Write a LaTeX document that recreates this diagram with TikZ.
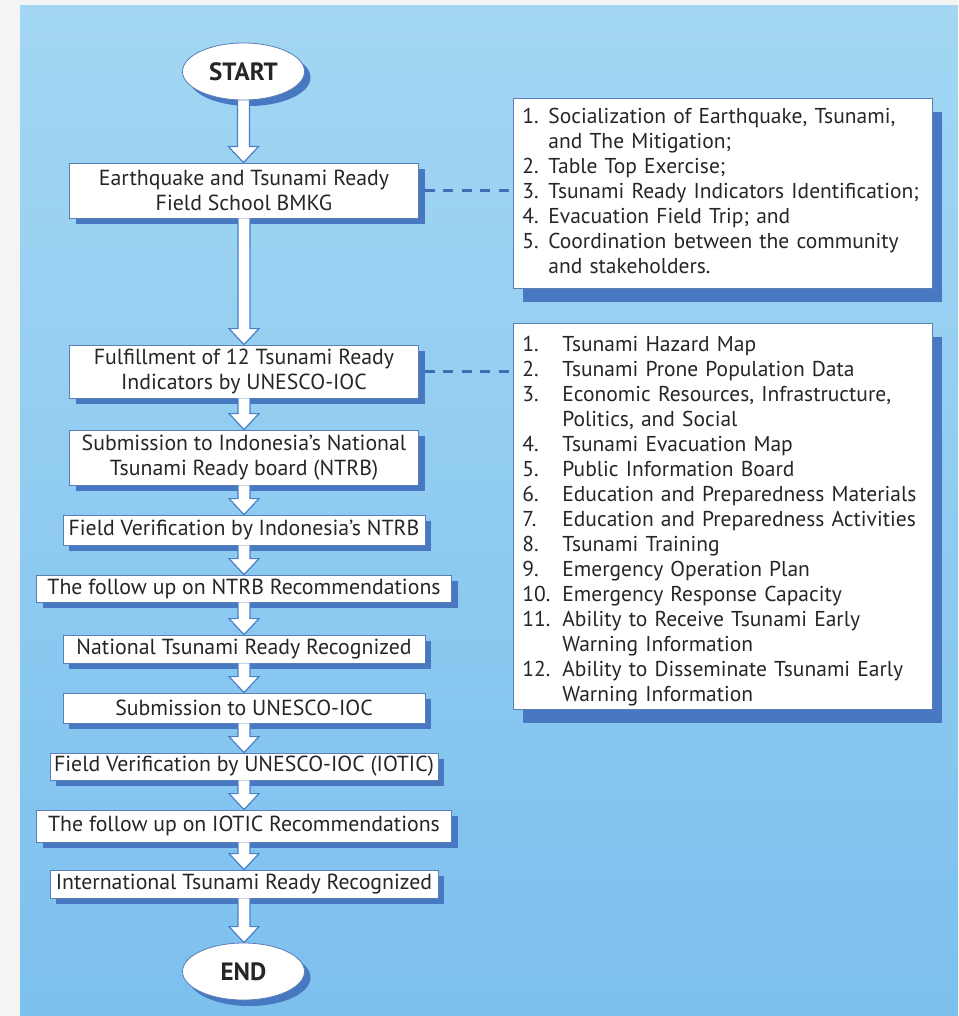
\documentclass[tikz,border=0pt]{standalone}
\usepackage{fontspec}
\setmainfont{PT Sans}
\usetikzlibrary{shapes.geometric,shadows,calc}
\definecolor{bggray}{HTML}{F4F4F4}
\definecolor{paneltop}{HTML}{A3D7F3}
\definecolor{panelbot}{HTML}{7CC0EE}
\definecolor{shadowblue}{HTML}{4778C1}
\definecolor{borderblue}{HTML}{5A7FB8}
\definecolor{arrowblue}{HTML}{4A7FCA}
\definecolor{dashblue}{HTML}{3E6FB5}
\definecolor{textcol}{HTML}{262626}
\newcommand{\blockarrow}[2]{%
  \path let \p1=(#1.south), \p2=(#2.north) in
    [barrow] (\x1-6pt,\y1) -- (\x1-6pt,\y2+16pt) -- (\x1-15pt,\y2+16pt)
    -- (\x1,\y2) -- (\x1+15pt,\y2+16pt) -- (\x1+6pt,\y2+16pt) -- (\x1+6pt,\y1);}
\begin{document}
\begin{tikzpicture}[x=1pt,y=-1pt,
  boxshadow/.style={drop shadow={shadow xshift=6pt,shadow yshift=-6pt,fill=shadowblue,opacity=1}},
  bigshadow/.style={drop shadow={shadow xshift=10pt,shadow yshift=-14pt,fill=shadowblue,opacity=1}},
  stepbox/.style={draw=borderblue,line width=0.8pt,fill=white,boxshadow,align=center,
    inner sep=0pt,text=textcol,font=\fontsize{21.8}{25}\selectfont},
  term/.style={ellipse,draw=borderblue,line width=0.8pt,fill=white,boxshadow,
    minimum width=122pt,minimum height=57pt,inner sep=0pt,text=textcol,
    font=\fontsize{25}{28}\selectfont\bfseries},
  infobox/.style={draw=borderblue,line width=0.8pt,fill=white,bigshadow,align=left,
    anchor=north west,text width=401pt,inner xsep=9pt,inner ysep=0pt,text=textcol,
    font=\fontsize{21.5}{25}\selectfont},
  barrow/.style={fill=white,draw=arrowblue,line width=1.2pt,line join=miter},
  dashline/.style={draw=dashblue,line width=3.5pt,dash pattern=on 10pt off 8.5pt,shorten <=6pt}]
\useasboundingbox (0,0) rectangle (958,1016);
\fill[bggray] (0,0) rectangle (958,1016);
\shade[top color=paneltop,bottom color=panelbot] (20,6) rectangle (958,1016);

\node[term] (start) at (243.5,71.5) {START};
\node[stepbox,minimum width=349pt,minimum height=55pt] (b1) at (244,190.5)
  {Earthquake and Tsunami Ready\\Field School BMKG};
\node[stepbox,minimum width=349pt,minimum height=53pt] (b2) at (244,371.5)
  {Fulfillment of 12 Tsunami Ready\\Indicators by UNESCO-IOC};
\node[stepbox,minimum width=349pt,minimum height=55pt] (b3) at (244,457.5)
  {Submission to Indonesia’s National\\Tsunami Ready board (NTRB)};
\node[stepbox,minimum width=362pt,minimum height=30pt] (b4) at (244,530)
  {Field Verification by Indonesia’s NTRB};
\node[stepbox,minimum width=415pt,minimum height=27pt] (b5) at (244,588.5)
  {The follow up on NTRB Recommendations};
\node[stepbox,minimum width=362pt,minimum height=28pt] (b6) at (244,649)
  {National Tsunami Ready Recognized};
\node[stepbox,minimum width=362pt,minimum height=30pt] (b7) at (244,708)
  {Submission to UNESCO-IOC};
\node[stepbox,minimum width=388pt,minimum height=27pt] (b8) at (244,766.5)
  {Field Verification by UNESCO-IOC (IOTIC)};
\node[stepbox,minimum width=415pt,minimum height=32pt] (b9) at (244,826)
  {The follow up on IOTIC Recommendations};
\node[stepbox,minimum width=388pt,minimum height=28pt] (b10) at (244,884)
  {International Tsunami Ready Recognized};
\node[term] (end) at (243.5,971.5) {END};

\node[infobox,minimum height=190pt] (r1) at (513,98) {%
  \begin{tabular}{@{}p{26pt}@{}l@{}}
  1.&Socialization of Earthquake, Tsunami,\\
    &and The Mitigation;\\
  2.&Table Top Exercise;\\
  3.&Tsunami Ready Indicators Identification;\\
  4.&Evacuation Field Trip; and\\
  5.&Coordination between the community\\
    &and stakeholders.
  \end{tabular}};
\node[infobox,minimum height=385pt] (r2) at (513,323) {%
  \begin{tabular}{@{}p{40pt}@{}l@{}}
  \rule{0pt}{28.5pt}1.&Tsunami Hazard Map\\
  2.&Tsunami Prone Population Data\\
  3.&Economic Resources, Infrastructure,\\
    &Politics, and Social\\
  4.&Tsunami Evacuation Map\\
  5.&Public Information Board\\
  6.&Education and Preparedness Materials\\
  7.&Education and Preparedness Activities\\
  8.&Tsunami Training\\
  9.&Emergency Operation Plan\\
  10.&Emergency Response Capacity\\
  11.&Ability to Receive Tsunami Early\\
    &Warning Information\\
  12.&Ability to Disseminate Tsunami Early\\
    &Warning Information
  \end{tabular}};

\blockarrow{start}{b1}
\blockarrow{b1}{b2}
\blockarrow{b2}{b3}
\blockarrow{b3}{b4}
\blockarrow{b4}{b5}
\blockarrow{b5}{b6}
\blockarrow{b6}{b7}
\blockarrow{b7}{b8}
\blockarrow{b8}{b9}
\blockarrow{b9}{b10}
\blockarrow{b10}{end}

\draw[dashline] (b1.east) -- (b1.east -| r1.west);
\draw[dashline] (b2.east) -- (b2.east -| r2.west);
\end{tikzpicture}
\end{document}
